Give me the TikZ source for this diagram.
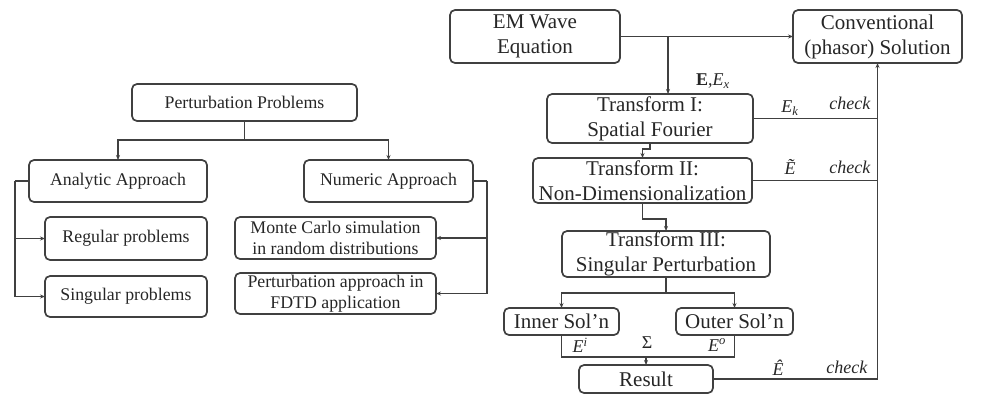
\documentclass[tikz,border=0pt]{standalone}
\usepackage{fontspec}
\setmainfont{Liberation Serif}
\usetikzlibrary{arrows.meta}
\definecolor{lc}{HTML}{404040}
\definecolor{tc}{HTML}{262626}
\begin{document}
\begin{tikzpicture}[x=1pt,y=-1pt,
 box/.style={draw=lc, line width=1.7pt, rounded corners=5pt, inner sep=0pt, outer sep=0pt, align=center, text=tc},
 lbox/.style={box, font=\fontsize{17.8}{21}\selectfont},
 rbox/.style={box, font=\fontsize{21}{25}\selectfont},
 conn/.style={draw=lc, line width=1.7pt},
 arr/.style={conn, -{Stealth[length=5pt,width=4pt]}},
 lab/.style={font=\fontsize{18}{20}\selectfont, text=tc, inner sep=0pt}]
\useasboundingbox (0,0) rectangle (987,394);
% left tree
\node[lbox, minimum width=225pt, minimum height=37pt] (pp) at (244.5,102.5) {Perturbation Problems};
\node[lbox, minimum width=178pt, minimum height=42pt] (ana) at (118,181) {Analytic Approach};
\node[lbox, minimum width=169pt, minimum height=42pt] (num) at (388.5,181) {Numeric Approach};
\node[lbox, minimum width=162pt, minimum height=43pt] (reg) at (126,238.5) {Regular problems};
\node[lbox, minimum width=162pt, minimum height=41pt] (sing) at (126,296.5) {Singular problems};
\node[lbox, minimum width=201pt, minimum height=42pt] (mc) at (335.5,238) {Monte Carlo simulation\\in random distributions};
\node[lbox, minimum width=201pt, minimum height=41pt] (pa) at (335.5,293.5) {Perturbation approach in\\FDTD application};
\draw[conn] (pp.south) -- ++(0,19) coordinate (pj);
\draw[arr] (pj) -| (ana.north);
\draw[arr] (pj) -| (num.north);
\coordinate (lb) at (15,181);
\draw[conn] (ana.west) -- (lb);
\draw[arr] (lb) |- (reg.west);
\draw[arr] (lb) |- (sing.west);
\coordinate (rb) at (487,181);
\draw[conn] (num.east) -- (rb);
\draw[arr] (rb) |- (mc.east);
\draw[arr] (rb) |- (pa.east);
% right flow
\node[rbox, minimum width=170pt, minimum height=53pt] (em) at (535,36.5) {EM Wave\\Equation};
\node[rbox, minimum width=169pt, minimum height=53pt] (conv) at (877.5,36.5) {Conventional\\(phasor) Solution};
\node[rbox, minimum width=206pt, minimum height=49pt] (t1) at (650,118.5) {Transform I:\\Spatial Fourier};
\node[rbox, minimum width=219pt, minimum height=45pt] (t2) at (642.5,180.5) {Transform II:\\Non-Dimensionalization};
\node[rbox, minimum width=208pt, minimum height=46pt] (t3) at (666,254) {Transform III:\\Singular Perturbation};
\node[rbox, minimum width=115pt, minimum height=27pt] (inner) at (561.5,321.5) {Inner Sol’n};
\node[rbox, minimum width=117pt, minimum height=27pt] (outer) at (734.5,321.5) {Outer Sol’n};
\node[rbox, minimum width=134pt, minimum height=28pt] (res) at (646,379) {Result};
\draw[arr] (em.east) -- (conv.west);
\coordinate (ej) at (668,36.5);
\draw[arr] (ej) -- (ej |- t1.north);
\draw[arr] (t1.south) -- ++(0,6) -| (t2.north);
\draw[arr] (t2.south) -- ++(0,16) -| (t3.north);
\draw[conn] (t3.south) -- ++(0,16) coordinate (sj);
\draw[arr] (sj) -| (inner.north);
\draw[arr] (sj) -| (outer.north);
\draw[conn] (inner.south) -- ++(0,22) -| (outer.south);
\coordinate (sumj) at (646,357);
\draw[arr] (sumj) -- (res.north);
\coordinate (rc) at (conv.south |- res.east);
\draw[conn] (res.east) -- (rc);
\draw[arr] (rc) -- (conv.south);
\draw[conn] (t1.east) -- (rc |- t1.east);
\draw[conn] (t2.east) -- (rc |- t2.east);
% labels
\node[lab] (lx) at (713,81) {\textbf{E},\textit{E}\textsubscript{\textit{x}}};
\node[lab] (lk) at (790,108) {\textit{E}\textsubscript{\textit{k}}};
\node[lab] (c1) at (850,103) {\textit{check}};
\node[lab] (lt) at (790,167) {\textit{\~{E}}};
\node[lab] (c2) at (850,167) {\textit{check}};
\node[lab] (li) at (580,345) {\textit{E}\textsuperscript{\textit{i}}};
\node[lab] (ls) at (647,343) {Σ};
\node[lab] (lo) at (717,345) {\textit{E}\textsuperscript{\textit{o}}};
\node[lab] (lh) at (778,368) {\textit{\^{E}}};
\node[lab] (c3) at (847,367) {\textit{check}};
\end{tikzpicture}
\end{document}
